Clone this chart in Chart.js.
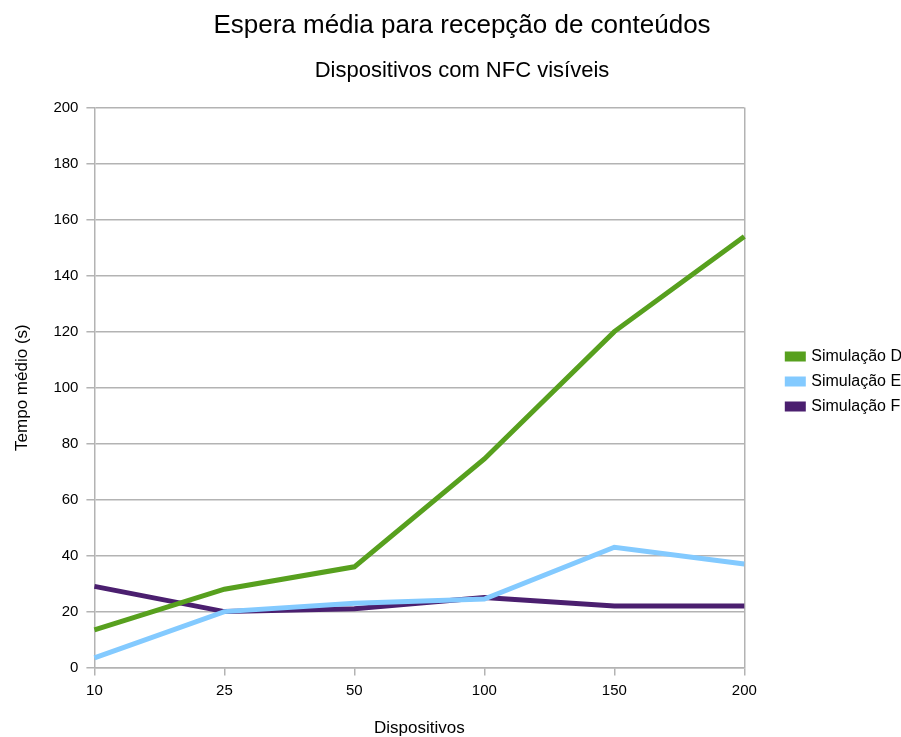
<!DOCTYPE html>
<html>
<head>
<meta charset="utf-8">
<script src="https://cdn.jsdelivr.net/npm/chart.js@4"></script>
<style>
html,body{margin:0;padding:0;background:#fff;}
#wrap{width:901px;height:737px;}
</style>
</head>
<body>
<div id="wrap"><canvas id="c" width="901" height="737"></canvas></div>
<script>
const categories = ['10', '25', '50', '100', '150', '200'];
const simD = [13.5, 28, 36, 74.5, 120, 154];
const simE = [3.5, 20, 23, 24.5, 43, 37];
const simF = [29, 20, 21, 25, 22, 22];
const yTicks = [0, 20, 40, 60, 80, 100, 120, 140, 160, 180, 200];

const FONT = '"Liberation Sans", Arial, sans-serif';
Chart.defaults.font.family = FONT;
Chart.defaults.color = '#000';

const legendShift = {
  id: 'legendShift',
  afterLayout(chart) {
    if (chart.legend) { chart.legend.top += 9; chart.legend.bottom += 9; }
  }
};

new Chart(document.getElementById('c'), {
  type: 'line',
  data: {
    labels: categories,
    datasets: [
      {label: 'Simulação D', data: simD, borderColor: '#57a01e', backgroundColor: '#57a01e', borderWidth: 5, pointRadius: 0, tension: 0},
      {label: 'Simulação E', data: simE, borderColor: '#83caff', backgroundColor: '#83caff', borderWidth: 5, pointRadius: 0, tension: 0},
      {label: 'Simulação F', data: simF, borderColor: '#4b1f6f', backgroundColor: '#4b1f6f', borderWidth: 5, pointRadius: 0, tension: 0}
    ]
  },
  plugins: [legendShift],
  options: {
    responsive: false,
    animation: false,
    layout: {padding: {left: 12, right: -11, top: 6, bottom: -2}},
    plugins: {
      title: {display: true, text: 'Espera média para recepção de conteúdos', font: {size: 26, weight: 'normal'}, padding: {top: 4, bottom: 17}},
      subtitle: {display: true, text: 'Dispositivos com NFC visíveis', font: {size: 22, weight: 'normal'}, color: '#000', padding: {top: 0, bottom: 23}},
      legend: {
        position: 'right',
        align: 'center',
        labels: {boxWidth: 16, boxHeight: 5, padding: 9, font: {size: 16}, color: '#000'}
      },
      tooltip: {enabled: false}
    },
    scales: {
      x: {
        offset: false,
        title: {display: true, text: 'Dispositivos', font: {size: 17}, padding: {top: 13, bottom: 0}},
        ticks: {font: {size: 15}, padding: 6, maxRotation: 0},
        grid: {
          color: ctx => ctx.index === categories.length - 1 ? '#b3b3b3' : 'rgba(0,0,0,0)',
          tickColor: '#b3b3b3',
          tickLength: 8,
          lineWidth: 1.5
        },
        border: {display: true, color: '#b3b3b3', width: 1.5}
      },
      y: {
        min: 0, max: 200,
        afterBuildTicks: axis => { axis.ticks = yTicks.map(v => ({value: v})); },
        title: {display: true, text: 'Tempo médio (s)', font: {size: 17}, padding: {top: 0, bottom: 13}},
        ticks: {font: {size: 15}, padding: 8},
        grid: {color: '#b3b3b3', tickLength: 8, lineWidth: 1.5},
        border: {display: true, color: '#b3b3b3', width: 1.5}
      },
      gap: {
        position: 'right',
        type: 'linear',
        display: true,
        ticks: {display: false},
        grid: {display: false},
        border: {display: false},
        afterFit: axis => { axis.width = 34; }
      }
    }
  }
});
</script>
</body>
</html>
